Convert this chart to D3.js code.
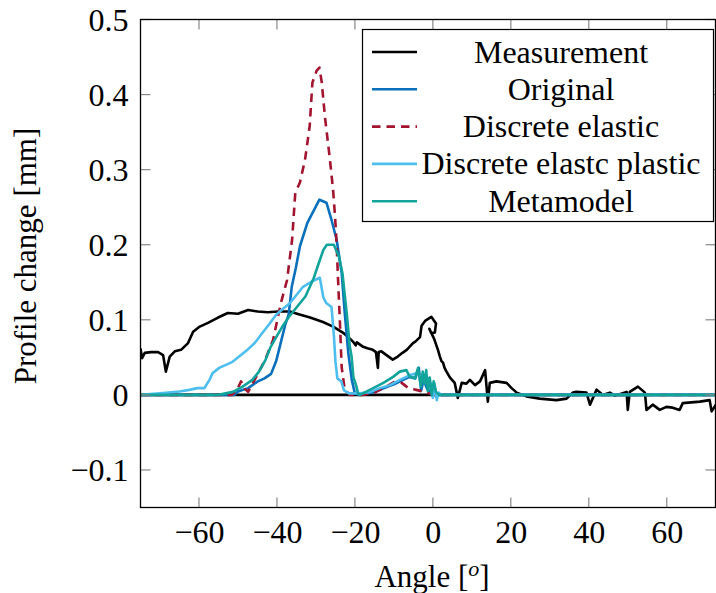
<!DOCTYPE html>
<html>
<head>
<meta charset="utf-8">
<script src="https://cdn.jsdelivr.net/npm/d3@7"></script>
<style>
  html, body { margin: 0; padding: 0; background: #fff; }
  svg { display: block; }
  text { font-family: "Liberation Serif", "Times New Roman", serif; fill: #000; }
</style>
</head>
<body>
<svg id="chart" width="716" height="593"></svg>
<script>
// ---- data -------------------------------------------------------------
const xTicks = [-60, -40, -20, 0, 20, 40, 60];
const yTicks = [-0.1, 0, 0.1, 0.2, 0.3, 0.4, 0.5];

// Measured profile change
const measAngle = [-75, -74.6, -73.9, -72.3, -70.5, -69.2, -68.5, -67.5, -66.2, -64.6, -62.8, -61.5, -59.8, -57.7, -55.1, -52.6, -50.0, -47.4, -44.9, -42.4, -39.7, -36.7, -34.2, -31.5, -28.2, -25.6, -23.1, -21.5, -20.5, -19.8, -19.5, -17.9, -16.8, -15.4, -14.6, -14.1, -13.9, -13.2, -11.9, -10.3, -9.0, -7.8, -6.7, -5.1, -4.5, -3.3, -2.9, -1.9, -0.4, 0.8, 0.5, -0.4, -0.9, 0.3, 1.3, 1.8, 2.2, 2.6, 3.0, 3.5, 4.4, 5.6, 6.4, 7.4, 8.6, 9.5, 10.8, 12.1, 13.4, 14.1, 14.6, 16.3, 18.9, 20.2, 21.5, 24.0, 27.4, 31.7, 34.3, 35.9, 36.8, 39.4, 40.3, 42.0, 43.6, 45.4, 46.7, 49.7, 50.0, 50.5, 52.6, 54.4, 54.8, 56.4, 58.2, 59.9, 61.5, 63.3, 64.1, 68.5, 71.0, 71.5, 72.6];
const measValue = [0.062, 0.049, 0.056, 0.057, 0.057, 0.053, 0.031, 0.051, 0.058, 0.060, 0.069, 0.084, 0.091, 0.096, 0.103, 0.109, 0.108, 0.113, 0.111, 0.110, 0.111, 0.111, 0.107, 0.103, 0.097, 0.091, 0.083, 0.076, 0.071, 0.066, 0.070, 0.064, 0.062, 0.060, 0.057, 0.036, 0.057, 0.058, 0.053, 0.047, 0.051, 0.056, 0.060, 0.069, 0.071, 0.077, 0.092, 0.099, 0.104, 0.095, 0.083, 0.082, 0.088, 0.075, 0.060, 0.051, 0.045, 0.043, 0.036, 0.031, 0.023, 0.016, -0.004, 0.016, 0.015, 0.020, 0.013, 0.018, 0.033, -0.009, 0.016, 0.018, 0.016, 0.009, 0.003, -0.002, -0.005, -0.007, -0.005, 0.003, 0.004, 0.003, -0.013, 0.007, 0.000, 0.003, -0.001, 0.004, -0.020, 0.004, 0.011, 0.003, -0.020, -0.013, -0.020, -0.016, -0.017, -0.020, -0.011, -0.009, -0.007, -0.022, -0.013];

// Zero reference of the measurement
const zeroAngle = [-75, 72.5];
const zeroValue = [0, 0];

// Original model
const origAngle = [-75, -50.9, -50.0, -47.4, -44.9, -43.2, -41.5, -40.2, -39.0, -37.9, -37.0, -36.2, -35.2, -34.1, -32.2, -30.4, -29.1, -27.3, -26.0, -24.7, -23.4, -22.6, -21.7, -20.8, -20.0, -18.7, -15, -12, -10, -8, -6, -4.5, -3.6, -3.0, -2.4, -1.5, -0.5, 0.5, 72.5];
const origValue = [0, 0, 0.0045, 0.009, 0.018, 0.022, 0.028, 0.045, 0.070, 0.093, 0.107, 0.144, 0.168, 0.198, 0.229, 0.247, 0.260, 0.256, 0.233, 0.207, 0.163, 0.109, 0.056, 0.020, 0.002, 0, 0.004, 0.010, 0.014, 0.019, 0.024, 0.022, 0.036, 0.006, 0.020, 0.008, 0.004, 0, 0];

// Discrete elastic model
const elasAngle = [-75, -51.5, -50.3, -49.2, -48.2, -47.4, -45.0, -43.0, -41.0, -39.0, -37.4, -36.1, -35.3, -34.1, -32.8, -31.6, -30.9, -29.8, -29.1, -28.5, -27.7, -26.4, -25.6, -25.1, -24.7, -24.4, -23.8, -23.4, -22.6, -21.3, -18, -15, -12, -10, -8, -6.5, -4.5, -3, -1.5, 0, 72.5];
const elasValue = [0, 0, 0.006, 0.018, 0.008, 0.004, 0.027, 0.047, 0.073, 0.122, 0.153, 0.207, 0.269, 0.283, 0.313, 0.358, 0.416, 0.432, 0.436, 0.416, 0.371, 0.313, 0.273, 0.238, 0.203, 0.163, 0.091, 0.037, 0.007, 0, 0, 0.003, 0.011, 0.017, 0.016, 0.010, 0.007, 0.005, 0.003, 0, 0];

// Discrete elastic-plastic model
const plasAngle = [-75, -70, -65, -62.5, -60.4, -58.6, -57.3, -56.5, -54.8, -53.1, -51.4, -49.7, -47.8, -45.7, -43.8, -42.0, -40.3, -38.6, -36.7, -35.0, -33.3, -31.1, -29.0, -28.1, -27.3, -26.0, -25.4, -25.0, -24.5, -23.5, -22.8, -21.5, -18.7, -16, -13.6, -11, -8.5, -6, -4, -2.7, -1.5, -0.6, 0, 0.4, 1.0, 1.5, 2.2, 72.5];
const plasValue = [0, 0.002, 0.0045, 0.0067, 0.009, 0.009, 0.020, 0.029, 0.036, 0.040, 0.044, 0.051, 0.059, 0.069, 0.082, 0.094, 0.106, 0.114, 0.122, 0.133, 0.144, 0.151, 0.156, 0.130, 0.122, 0.117, 0.080, 0.045, 0.022, 0.018, 0.006, 0.002, 0.002, 0.004, 0.009, 0.013, 0.020, 0.026, 0.029, 0.022, 0.024, 0.016, -0.004, 0.015, -0.007, 0.003, 0, 0];

// Metamodel
const metaAngle = [-75, -55, -51.3, -48.8, -46.3, -44.6, -42.9, -41.6, -40.3, -38.6, -36.9, -35.2, -32.7, -30.6, -29.5, -28.1, -27.2, -25.4, -24.1, -23.2, -22.1, -21.3, -20.85, -20.4, -19.6, -19.2, -18.7, -15.3, -12.7, -10.2, -8.5, -6.8, -5.9, -4.6, -3.8, -3.1, -2.6, -2.2, -1.7, -1.3, -0.8, -0.3, 0.2, 0.8, 1.6, 72.5];
const metaValue = [0, 0, 0.004, 0.011, 0.020, 0.031, 0.047, 0.064, 0.076, 0.091, 0.104, 0.115, 0.131, 0.155, 0.172, 0.193, 0.200, 0.200, 0.184, 0.162, 0.109, 0.064, 0.051, 0.024, 0.011, 0.002, 0, 0.009, 0.016, 0.024, 0.031, 0.033, 0.024, 0.022, 0.036, 0.011, 0.031, 0.015, 0.033, 0.005, 0.023, 0.000, 0.018, 0.004, 0, 0];

const seriesNames = ["Measurement", "Original", "Discrete elastic", "Discrete elastc plastic", "Metamodel"];

// ---- layout -----------------------------------------------------------
const svg = d3.select("#chart");
const plot = { left: 140.5, right: 715.5, top: 19.5, bottom: 507.5 };
const tickFont = "32px";
const titleFont = "31px";

const x = d3.scaleLinear().domain([-75, 72.5]).range([plot.left, plot.right]);
const y = d3.scaleLinear().domain([-0.15, 0.5]).range([plot.bottom, plot.top]);

const zip = (a, v) => a.map((d, i) => [d, v[i]]);

const series = [
  { name: seriesNames[0], data: zip(measAngle, measValue), color: "#000000", dash: null, width: 2.6 },
  { name: seriesNames[1], data: zip(origAngle, origValue), color: "#0b70bb", dash: null, width: 2.6 },
  { name: seriesNames[2], data: zip(elasAngle, elasValue), color: "#a2142f", dash: "8.5,6", width: 2.6 },
  { name: seriesNames[3], data: zip(plasAngle, plasValue), color: "#4dbeee", dash: null, width: 2.6 },
  { name: seriesNames[4], data: zip(metaAngle, metaValue), color: "#12a39a", dash: null, width: 2.6 }
];

svg.append("defs").append("clipPath").attr("id", "plotClip")
  .append("rect")
  .attr("x", plot.left).attr("y", plot.top)
  .attr("width", plot.right - plot.left).attr("height", plot.bottom - plot.top);

const line = d3.line().x(d => x(d[0])).y(d => y(d[1]));

const lines = svg.append("g").attr("clip-path", "url(#plotClip)");

// zero reference under everything
lines.append("path")
  .attr("d", line(zip(zeroAngle, zeroValue)))
  .attr("fill", "none").attr("stroke", "#000").attr("stroke-width", 2.6);

series.forEach(s => {
  lines.append("path")
    .attr("d", line(s.data))
    .attr("fill", "none")
    .attr("stroke", s.color)
    .attr("stroke-width", s.width)
    .attr("stroke-linejoin", "round")
    .attr("stroke-dasharray", s.dash);
});

// ---- axes (ticks pointing inward on all four sides) -------------------
const tickLen = 10;
const tickColor = "#888";
const axG = svg.append("g");

xTicks.forEach(t => {
  axG.append("line").attr("x1", x(t)).attr("x2", x(t))
    .attr("y1", plot.bottom).attr("y2", plot.bottom - tickLen)
    .attr("stroke", tickColor).attr("stroke-width", 1.2);
  axG.append("line").attr("x1", x(t)).attr("x2", x(t))
    .attr("y1", plot.top).attr("y2", plot.top + tickLen)
    .attr("stroke", tickColor).attr("stroke-width", 1.2);
});
yTicks.forEach(t => {
  axG.append("line").attr("x1", plot.left).attr("x2", plot.left + tickLen)
    .attr("y1", y(t)).attr("y2", y(t))
    .attr("stroke", tickColor).attr("stroke-width", 1.2);
  axG.append("line").attr("x1", plot.right).attr("x2", plot.right - tickLen)
    .attr("y1", y(t)).attr("y2", y(t))
    .attr("stroke", tickColor).attr("stroke-width", 1.2);
});

const fmtNum = v => {
  const s = (Math.abs(v) < 1e-9) ? "0" : String(+v.toFixed(2));
  return s.replace("-", "\u2212");
};

const gx = svg.append("g")
  .attr("transform", `translate(0,${plot.bottom})`)
  .call(d3.axisBottom(x).tickValues(xTicks).tickSize(0).tickFormat(fmtNum));
gx.select(".domain").remove();
gx.selectAll(".tick line").remove();
gx.selectAll(".tick text")
  .attr("y", 35).attr("dy", null)
  .style("font-family", "'Liberation Serif', serif")
  .style("font-size", tickFont).attr("fill", "#000");

const gy = svg.append("g")
  .attr("transform", `translate(${plot.left},0)`)
  .call(d3.axisLeft(y).tickValues(yTicks).tickSize(0).tickFormat(fmtNum));
gy.select(".domain").remove();
gy.selectAll(".tick line").remove();
gy.selectAll(".tick text")
  .attr("x", -12).attr("dy", "0.33em")
  .style("font-family", "'Liberation Serif', serif")
  .style("font-size", tickFont).attr("fill", "#000");

// frame
svg.append("rect")
  .attr("x", plot.left).attr("y", plot.top)
  .attr("width", plot.right - plot.left).attr("height", plot.bottom - plot.top)
  .attr("fill", "none").attr("stroke", "#000").attr("stroke-width", 1.3);

// ---- axis titles -------------------------------------------------------
const xt = svg.append("text")
  .attr("x", 432).attr("y", 587)
  .attr("text-anchor", "middle")
  .style("font-size", titleFont);
xt.append("tspan").text("Angle [");
xt.append("tspan").text("o").style("font-style", "italic").style("font-size", "22px").attr("dy", "-11");
xt.append("tspan").text("]").attr("dy", "11");

svg.append("text")
  .attr("transform", "translate(36,256) rotate(-90)")
  .attr("text-anchor", "middle")
  .style("font-size", titleFont)
  .text("Profile change [mm]");

// ---- legend ------------------------------------------------------------
const leg = { x: 362.5, y: 29.5, w: 351, h: 192, row0: 52, step: 37.3 };
const lg = svg.append("g");
lg.append("rect")
  .attr("x", leg.x).attr("y", leg.y).attr("width", leg.w).attr("height", leg.h)
  .attr("fill", "#fff").attr("stroke", "#000").attr("stroke-width", 1.2);

series.forEach((s, i) => {
  const cy = leg.row0 + i * leg.step;
  lg.append("line")
    .attr("x1", 372).attr("x2", 417).attr("y1", cy).attr("y2", cy)
    .attr("stroke", s.color).attr("stroke-width", s.width)
    .attr("stroke-dasharray", s.dash);
  lg.append("text")
    .attr("x", 561).attr("y", cy).attr("dy", "0.33em")
    .attr("text-anchor", "middle")
    .style("font-size", tickFont)
    .text(s.name);
});
</script>
</body>
</html>
